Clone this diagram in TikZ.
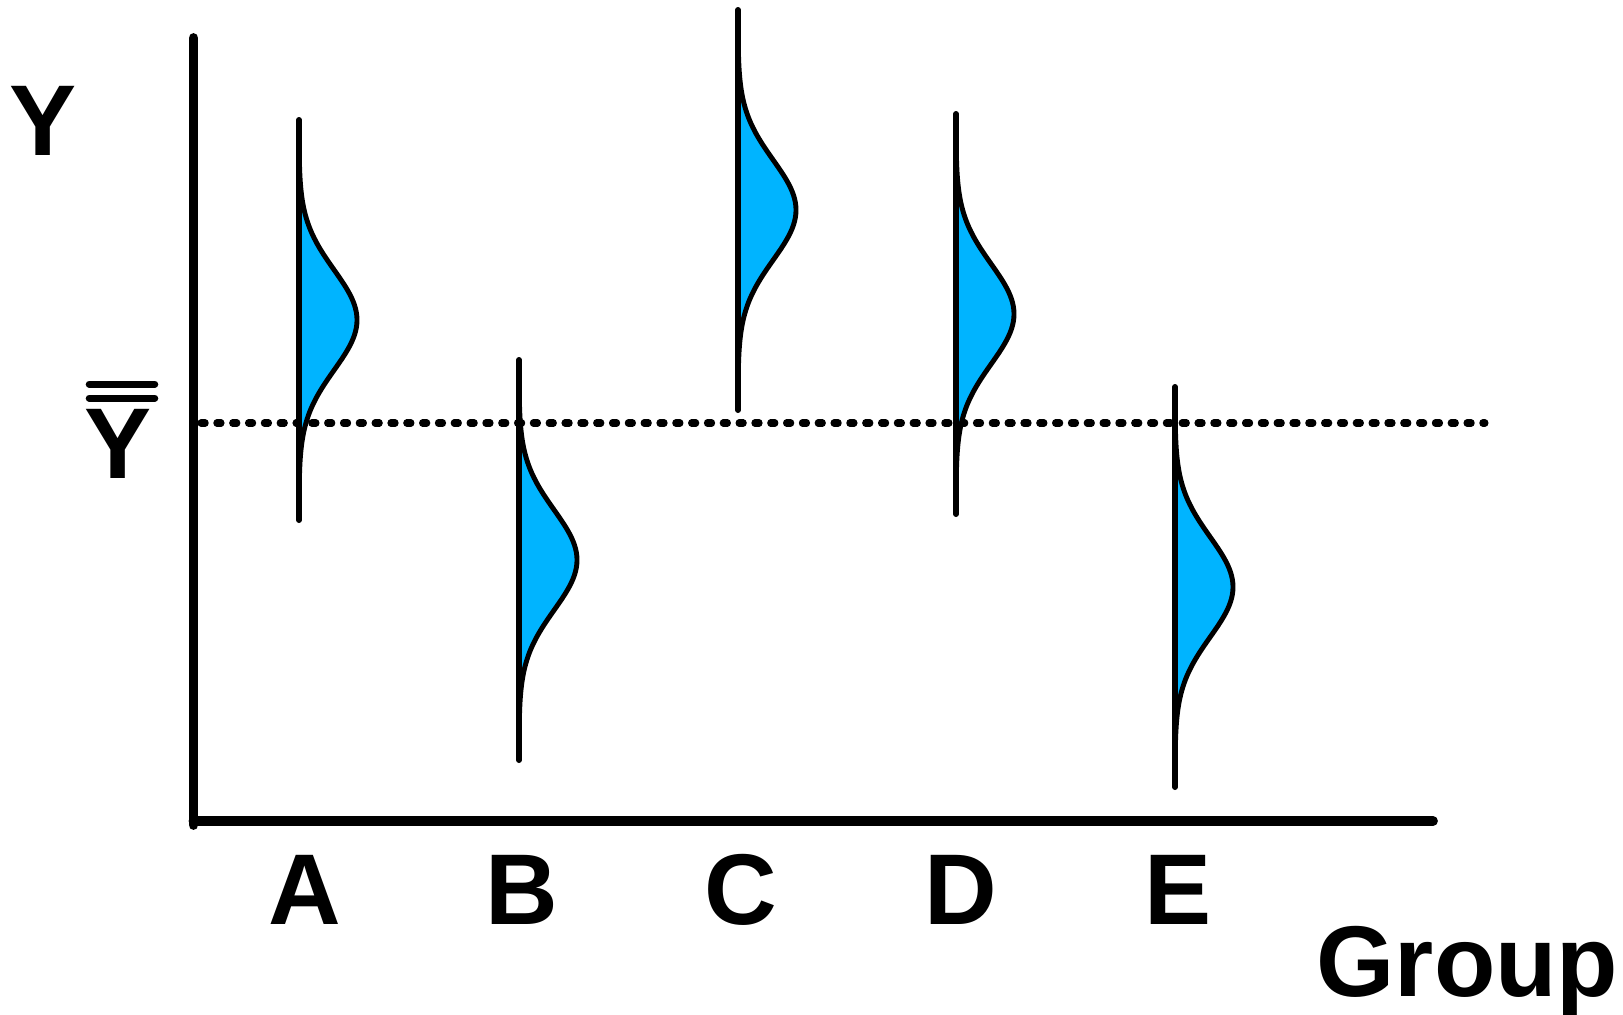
\documentclass[tikz,border=0pt]{standalone}
\usepackage{fontspec}
\setmainfont{Liberation Sans}
\usepackage{xcolor}
\usetikzlibrary{positioning}
\definecolor{distblue}{RGB}{0,180,255}

\begin{document}
\begin{tikzpicture}[
    x=0.01cm, y=-0.01cm,
    every node/.style={font=\fontsize{28.6}{30}\selectfont\bfseries, inner sep=0pt},
    axis/.style={line width=2.8pt, line cap=round},
    stem/.style={line width=1.7pt, line cap=round},
    bell/.style={line width=1.4pt, fill=distblue, line join=round},
    grand/.style={line width=2pt, line cap=round, dash pattern=on 1.2pt off 3.3pt},
    bar/.style={line width=2pt, line cap=round},
]
    \useasboundingbox (0,0) rectangle (1623,1014);

    % --- axes ---
    \draw[axis] (193.5,38) -- (193.5,825);
    \draw[axis] (193.5,821) -- (1433,821);

    % --- grand mean (dotted) ---
    \draw[grand] (201,423) -- (1485,423);

    % --- group distributions: stem top x / top y ---
    \foreach \gx/\gy in {299/120, 519/360, 738/10, 956/114, 1175/387} {
        \pgfmathsetmacro\gb{\gy+400}
        \pgfmathsetmacro\gm{\gy+200}
        \draw[bell] plot[domain=\gy:\gb, variable=\t, samples=120, smooth]
            ({\gx + 58*exp(-0.5*((\t-\gm)/50)*((\t-\gm)/50))}, \t) -- cycle;
        \draw[stem] (\gx,\gy) -- (\gx,\gb);
    }

    % --- axis labels ---
    \node[anchor=base] (ylab) at (43.5,155) {Y};
    \node[anchor=base] (ybar) at (118,478) {Y};
    \draw[bar] ([xshift=0.055cm, yshift=0.24cm]ybar.north west) -- ([xshift=0.025cm, yshift=0.24cm]ybar.north east);
    \draw[bar] ([xshift=0.055cm, yshift=0.10cm]ybar.north west) -- ([xshift=0.025cm, yshift=0.10cm]ybar.north east);

    % group letters under the axis
    \node[anchor=base] (labA) at (305,924) {A};
    \node[anchor=base] (labB) at (522,924) {B};
    \node[anchor=base] (labC) at (741,924) {C};
    \node[anchor=base] (labD) at (961,924) {D};
    \node[anchor=base] (labE) at (1178,924) {E};
    \node[anchor=base west] (grp) at (1316,996) {Group};
\end{tikzpicture}
\end{document}
